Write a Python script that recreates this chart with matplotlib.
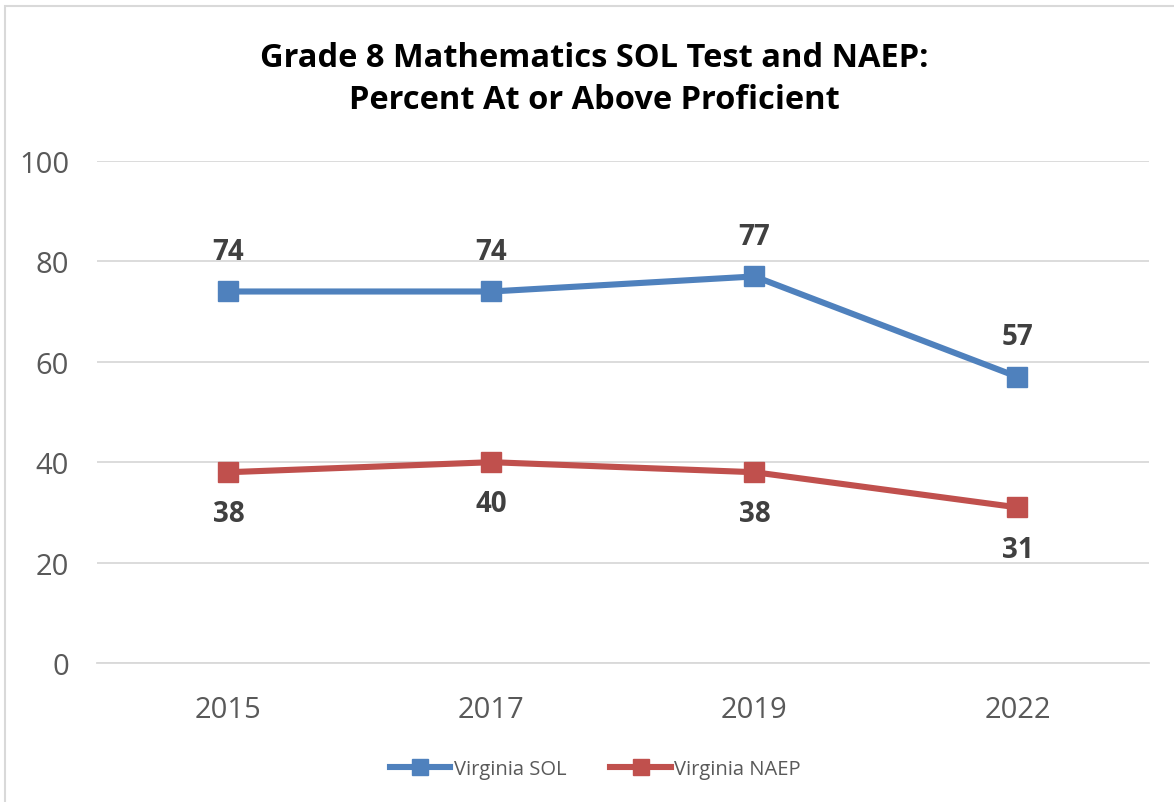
import matplotlib.pyplot as plt
from matplotlib.patches import Rectangle

years = ["2015", "2017", "2019", "2022"]
sol = [74, 74, 77, 57]
naep = [38, 40, 38, 31]
series_names = ["Virginia SOL", "Virginia NAEP"]

plt.rcParams['font.family'] = ['Open Sans', 'DejaVu Sans']

fig = plt.figure(figsize=(11.74, 8.03), dpi=100)
ax = fig.add_axes([0.0826, 0.1731, 0.8961, 0.6252])

x = list(range(len(years)))
blue = "#4F81BD"
red = "#C0504D"
ax.plot(x, sol, color=blue, lw=4.4, marker="s", ms=14.5, label=series_names[0], zorder=3)
ax.plot(x, naep, color=red, lw=4.4, marker="s", ms=14.5, label=series_names[1], zorder=3)

# data labels: SOL above, NAEP below
for xi, v in zip(x, sol):
    ax.annotate(str(v), (xi, v), xytext=(0, 29), textcoords="offset points",
                ha="center", va="center", fontsize=20, fontweight="bold", color="#404040")
for xi, v in zip(x, naep):
    ax.annotate(str(v), (xi, v), xytext=(0, -30), textcoords="offset points",
                ha="center", va="center", fontsize=20, fontweight="bold", color="#404040")

ax.set_xlim(-0.5, len(years) - 0.5)
ax.set_ylim(0, 100)
ax.set_yticks(range(0, 101, 20))
ax.set_xticks(x)
ax.set_xticklabels(years)
ax.grid(axis="y", color="#D9D9D9", lw=1.3)
ax.set_axisbelow(True)
for s in ["top", "right", "left"]:
    ax.spines[s].set_visible(False)
ax.spines["bottom"].set_color("#D9D9D9")
ax.spines["bottom"].set_linewidth(1.3)
ax.tick_params(axis="both", length=0, labelsize=21, labelcolor="#595959")
ax.tick_params(axis="y", pad=20)
ax.tick_params(axis="x", pad=23)

fig.text(0.506, 0.901, "Grade 8 Mathematics SOL Test and NAEP:\nPercent At or Above Proficient",
         ha="center", va="center", fontsize=23.5, fontweight="bold", color="black", linespacing=1.35)

fig.legend(loc="center", bbox_to_anchor=(0.507, 0.041), ncol=2, frameon=False,
           fontsize=14.5, labelcolor="#595959", handlelength=3.0, handletextpad=0.15,
           columnspacing=2.2, markerscale=0.8)

fig.patches.append(Rectangle((0.004, -0.01), 1.0, 1.0 - 0.0087 + 0.01, transform=fig.transFigure,
                             fill=False, edgecolor="#D9D9D9", lw=1.5))

fig.savefig("out.png", dpi=100)
